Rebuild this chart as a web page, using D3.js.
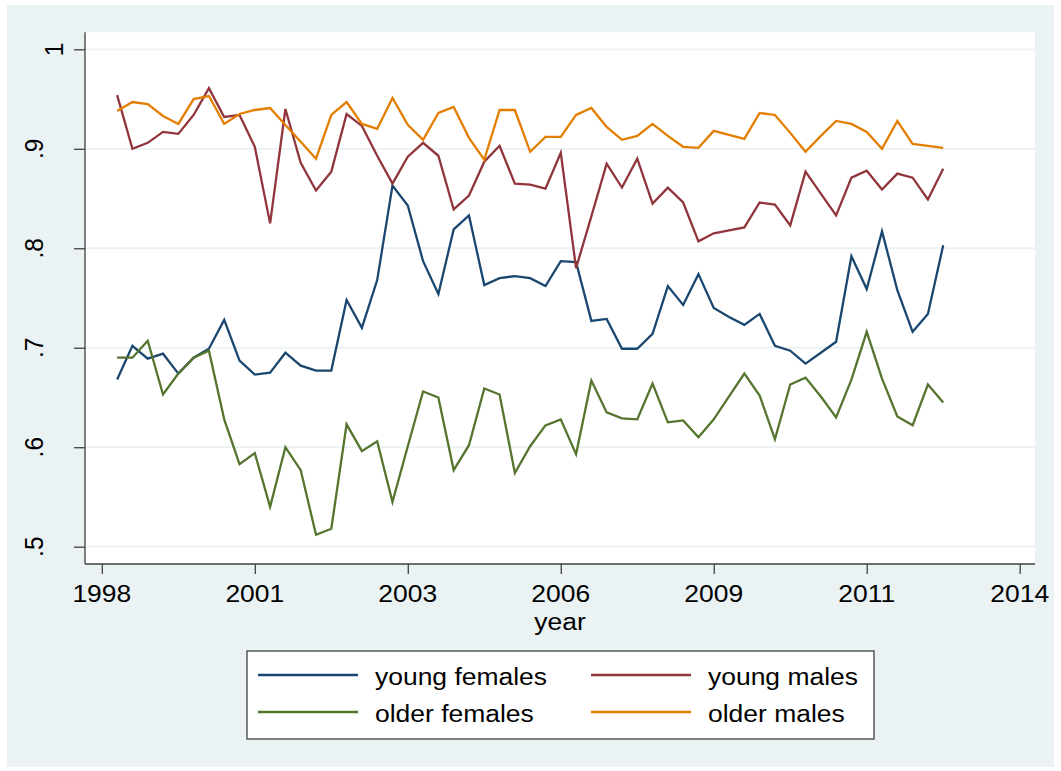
<!DOCTYPE html>
<html>
<head>
<meta charset="utf-8">
<script src="https://cdn.jsdelivr.net/npm/d3@7/dist/d3.min.js"></script>
<style>
  html, body { margin: 0; padding: 0; background: #ffffff; }
  svg { display: block; }
  text { font-family: "Liberation Sans", Arial, Helvetica, sans-serif; fill: #000; }
</style>
</head>
<body>
<svg id="chart" width="1061" height="771"></svg>
<script>
// Observation periods (survey waves) on the time axis
const periods = [1, 2, 3, 4, 5, 6, 7, 8, 9, 10,
  11, 12, 13, 14, 15, 16, 17, 18, 19, 20,
  21, 22, 23, 24, 25, 26, 27, 28, 29, 30,
  31, 32, 33, 34, 35, 36, 37, 38, 39, 40,
  41, 42, 43, 44, 45, 46, 47, 48, 49, 50,
  51, 52, 53, 54, 55];

// Time-axis ticks and their year labels
const xTickValues = [0, 10, 20, 30, 40, 50, 60];
const xTickLabels = ["1998", "2001", "2003", "2006", "2009", "2011", "2014"];

// Value-axis ticks
const yTickValues = [0.5, 0.6, 0.7, 0.8, 0.9, 1];
const yTickLabels = [".5", ".6", ".7", ".8", ".9", "1"];

// Series
const youngFemales = [0.668, 0.702, 0.689, 0.694, 0.674, 0.690, 0.699, 0.728, 0.687, 0.673,
  0.675, 0.695, 0.682, 0.677, 0.677, 0.748, 0.720, 0.768, 0.863, 0.843,
  0.787, 0.754, 0.819, 0.833, 0.763, 0.770, 0.772, 0.770, 0.762, 0.787,
  0.786, 0.727, 0.729, 0.699, 0.699, 0.714, 0.762, 0.743, 0.774, 0.740,
  0.731, 0.723, 0.734, 0.702, 0.697, 0.684, 0.695, 0.706, 0.792, 0.759,
  0.817, 0.758, 0.716, 0.734, 0.803];

const youngMales = [0.954, 0.900, 0.906, 0.917, 0.915, 0.934, 0.961, 0.932, 0.934, 0.902,
  0.825, 0.940, 0.886, 0.858, 0.877, 0.935, 0.923, 0.893, 0.865, 0.892,
  0.906, 0.893, 0.839, 0.853, 0.887, 0.903, 0.865, 0.864, 0.860, 0.896,
  0.780, 0.832, 0.885, 0.861, 0.890, 0.845, 0.861, 0.846, 0.807, 0.815,
  0.818, 0.821, 0.846, 0.844, 0.823, 0.877, 0.855, 0.833, 0.871, 0.878,
  0.859, 0.875, 0.871, 0.849, 0.880];

const olderFemales = [0.690, 0.690, 0.707, 0.653, 0.674, 0.690, 0.697, 0.628, 0.583, 0.594,
  0.540, 0.600, 0.577, 0.512, 0.518, 0.623, 0.596, 0.606, 0.545, 0.601,
  0.656, 0.650, 0.577, 0.602, 0.659, 0.653, 0.574, 0.601, 0.622, 0.628,
  0.593, 0.667, 0.635, 0.629, 0.628, 0.664, 0.625, 0.627, 0.610, 0.628,
  0.651, 0.674, 0.652, 0.608, 0.663, 0.670, 0.651, 0.630, 0.668, 0.716,
  0.669, 0.631, 0.622, 0.663, 0.645];

const olderMales = [0.938, 0.947, 0.945, 0.933, 0.925, 0.950, 0.953, 0.925, 0.935, 0.939,
  0.941, 0.924, 0.907, 0.890, 0.934, 0.947, 0.925, 0.920, 0.951, 0.924,
  0.909, 0.936, 0.942, 0.911, 0.889, 0.939, 0.939, 0.897, 0.912, 0.912,
  0.934, 0.941, 0.922, 0.909, 0.913, 0.925, 0.913, 0.902, 0.901, 0.918,
  0.914, 0.910, 0.936, 0.934, 0.916, 0.897, 0.913, 0.928, 0.925, 0.917,
  0.900, 0.928, 0.905, 0.903, 0.901];

const seriesNames = ["young females", "young males", "older females", "older males"];
const seriesColors = ["#1a476f", "#90353b", "#55752f", "#e37e00"];
const seriesValues = [youngFemales, youngMales, olderFemales, olderMales];

// ---- layout ----
const plot = { left: 85, right: 1035, top: 32.3, bottom: 564 };
const FONT = 24.5;       // label size
const SX = 1.08;         // horizontal stretch of the text

const svg = d3.select("#chart");

// graph region
svg.append("rect").attr("x", 7).attr("y", 5).attr("width", 1047).attr("height", 762)
  .attr("fill", "#eaf2f3");
// plot region
svg.append("rect").attr("x", plot.left).attr("y", plot.top)
  .attr("width", plot.right - plot.left).attr("height", plot.bottom - plot.top)
  .attr("fill", "#ffffff");

const x = d3.scaleLinear().domain([-1.1, 61.0]).range([plot.left, plot.right]);
const y = d3.scaleLinear().domain([0.4826, 1.0171]).range([plot.bottom, plot.top]);

// gridlines
svg.append("g").selectAll("line").data(yTickValues).join("line")
  .attr("x1", plot.left).attr("x2", plot.right)
  .attr("y1", d => y(d)).attr("y2", d => y(d))
  .attr("stroke", "#eaf2f3").attr("stroke-width", 1.8);

// y axis
const yAxis = svg.append("g").attr("transform", `translate(${plot.left},0)`)
  .call(d3.axisLeft(y).tickValues(yTickValues).tickSize(11).tickFormat(() => ""));
yAxis.select(".domain").attr("d", `M0,${plot.top}V${plot.bottom}`)
  .attr("stroke", "#404040").attr("stroke-width", 1.3);
yAxis.selectAll(".tick line").attr("stroke", "#404040").attr("stroke-width", 1.3);

// rotated value labels
svg.append("g").selectAll("text").data(yTickValues).join("text")
  .attr("transform", (d, i) => {
    const lab = yTickLabels[i];
    const bx = 63 - (lab.length - 1) * 20;
    return `translate(${bx},${y(d)}) scale(${SX},1) rotate(-90)`;
  })
  .attr("text-anchor", "middle")
  .style("font-size", FONT + "px")
  .text((d, i) => yTickLabels[i]);

// x axis
const xAxis = svg.append("g").attr("transform", `translate(0,${plot.bottom})`)
  .call(d3.axisBottom(x).tickValues(xTickValues).tickSize(10).tickFormat(() => ""));
xAxis.select(".domain").attr("d", `M${plot.left},0H${plot.right}`)
  .attr("stroke", "#404040").attr("stroke-width", 1.3);
xAxis.selectAll(".tick line").attr("stroke", "#404040").attr("stroke-width", 1.3);

svg.append("g").selectAll("text").data(xTickValues).join("text")
  .attr("transform", d => `translate(${x(d)},602) scale(${SX},1)`)
  .attr("text-anchor", "middle")
  .style("font-size", FONT + "px")
  .text((d, i) => xTickLabels[i]);

svg.append("text")
  .attr("transform", `translate(${(plot.left + plot.right) / 2},630) scale(${SX},1)`)
  .attr("text-anchor", "middle")
  .style("font-size", FONT + "px")
  .text("year");

// series lines
const line = d3.line().x((d, i) => x(periods[i])).y(d => y(d));
svg.append("g").selectAll("path").data(seriesValues).join("path")
  .attr("d", d => line(d))
  .attr("fill", "none")
  .attr("stroke", (d, i) => seriesColors[i])
  .attr("stroke-width", 2.3)
  .attr("stroke-linejoin", "miter")
  .attr("stroke-miterlimit", 4);

// legend
const legend = svg.append("g");
legend.append("rect").attr("x", 247).attr("y", 651).attr("width", 627).attr("height", 88)
  .attr("fill", "#ffffff").attr("stroke", "#404040").attr("stroke-width", 1.3);

const legCols = [258, 591];
const legRows = [675, 712];
const legItems = legend.selectAll("g.item").data(seriesNames).join("g").attr("class", "item")
  .attr("transform", (d, i) => `translate(${legCols[i % 2]},${legRows[Math.floor(i / 2)]})`);
legItems.append("line").attr("x1", 0).attr("x2", 100).attr("y1", 0).attr("y2", 0)
  .attr("stroke", (d, i) => seriesColors[i]).attr("stroke-width", 2.3);
legItems.append("text")
  .attr("transform", `translate(117,9.5) scale(${SX},1)`)
  .style("font-size", FONT + "px")
  .text(d => d);
</script>
</body>
</html>
